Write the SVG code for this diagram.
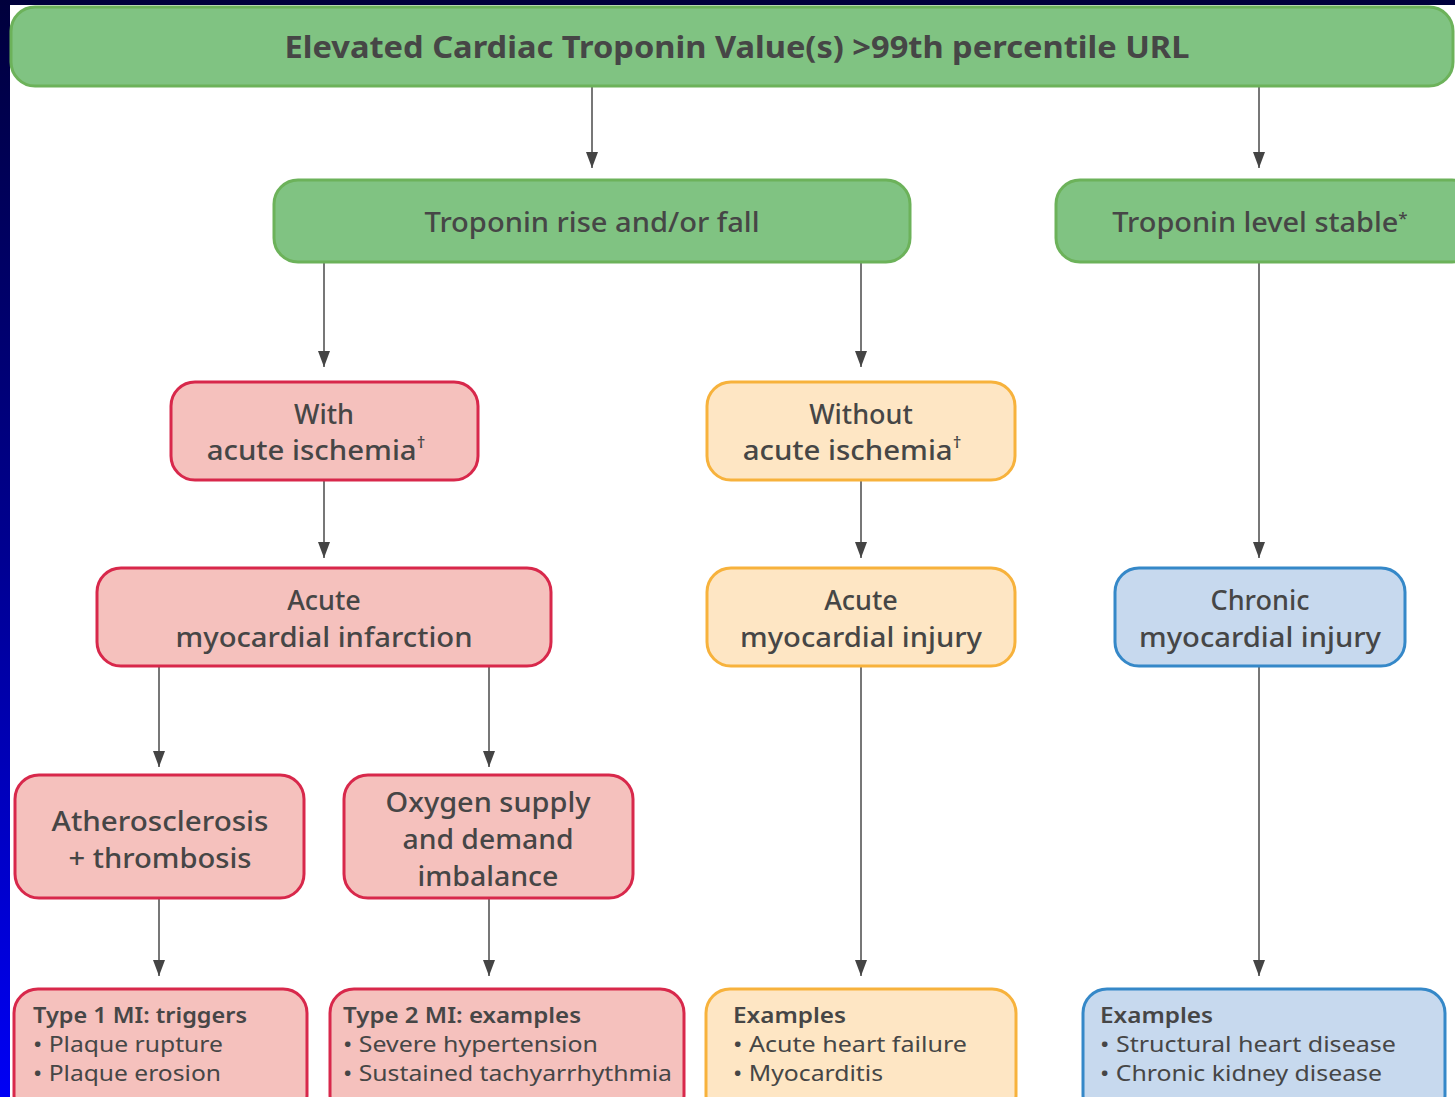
<svg xmlns="http://www.w3.org/2000/svg" width="1455" height="1097" viewBox="0 0 1455 1097">
<defs>
<linearGradient id="bg" x1="0" y1="0" x2="0" y2="1">
<stop offset="0" stop-color="#00003c"/>
<stop offset="0.5" stop-color="#000090"/>
<stop offset="1" stop-color="#0000f5"/>
</linearGradient>
<marker id="ah" viewBox="0 0 16 12" refX="16" refY="6" markerWidth="16" markerHeight="12" markerUnits="userSpaceOnUse" orient="auto">
<path d="M0,0 L16,6 L0,12 Z" fill="#444"/>
</marker>
<style>
.g{fill:#80c382;stroke:#6cb25a;stroke-width:3}
.p{fill:#f5c1bd;stroke:#d8284b;stroke-width:3}
.y{fill:#fee6c4;stroke:#f7b23c;stroke-width:3}
.b{fill:#c7d9ee;stroke:#3588c8;stroke-width:3}
text{font-family:"Noto Sans","DejaVu Sans",sans-serif;fill:#464646}
.t{font-size:27px;text-anchor:middle;font-weight:500}
.h{font-size:30px;font-weight:bold;text-anchor:middle}
.s{font-size:22px}
.sb{font-size:22px;font-weight:600}
.sup{font-size:17px}
.c{fill:none;stroke:#555;stroke-width:1.6}
</style>
</defs>
<rect x="0" y="0" width="1455" height="1097" fill="url(#bg)"/>
<rect x="10" y="5" width="1445" height="1092" fill="#fff"/>

<g id="connectors">
<line class="c" x1="592" y1="87" x2="592" y2="168" marker-end="url(#ah)"/>
<line class="c" x1="1259" y1="87" x2="1259" y2="168" marker-end="url(#ah)"/>
<line class="c" x1="324" y1="263" x2="324" y2="367" marker-end="url(#ah)"/>
<line class="c" x1="861" y1="263" x2="861" y2="367" marker-end="url(#ah)"/>
<line class="c" x1="324" y1="481" x2="324" y2="558" marker-end="url(#ah)"/>
<line class="c" x1="861" y1="481" x2="861" y2="558" marker-end="url(#ah)"/>
<line class="c" x1="1259" y1="263" x2="1259" y2="558" marker-end="url(#ah)"/>
<line class="c" x1="159" y1="667" x2="159" y2="767" marker-end="url(#ah)"/>
<line class="c" x1="489" y1="667" x2="489" y2="767" marker-end="url(#ah)"/>
<line class="c" x1="861" y1="667" x2="861" y2="976" marker-end="url(#ah)"/>
<line class="c" x1="1259" y1="667" x2="1259" y2="976" marker-end="url(#ah)"/>
<line class="c" x1="159" y1="899" x2="159" y2="976" marker-end="url(#ah)"/>
<line class="c" x1="489" y1="899" x2="489" y2="976" marker-end="url(#ah)"/>
</g>

<g id="n-top">
<rect class="g" x="11" y="7" width="1442" height="79" rx="24"/>
<text class="h" x="737" y="58" textLength="905" lengthAdjust="spacingAndGlyphs">Elevated Cardiac Troponin Value(s) &gt;99th percentile URL</text>
</g>

<g id="n-risefall">
<rect class="g" x="274" y="180" width="636" height="82" rx="24"/>
<text class="t" x="592" y="232" textLength="335" lengthAdjust="spacingAndGlyphs">Troponin rise and/or fall</text>
</g>

<g id="n-stable">
<rect class="g" x="1056" y="180" width="420" height="82" rx="24"/>
<text class="t" x="1260" y="232"><tspan textLength="286" lengthAdjust="spacingAndGlyphs">Troponin level stable</tspan><tspan class="sup" dy="-8">*</tspan></text>
</g>

<g id="n-with">
<rect class="p" x="171" y="382" width="307" height="98" rx="24"/>
<text class="t" x="324" y="424">With</text>
<text class="t" x="316" y="460"><tspan textLength="210" lengthAdjust="spacingAndGlyphs">acute ischemia</tspan><tspan class="sup" dy="-12">†</tspan></text>
</g>

<g id="n-without">
<rect class="y" x="707" y="382" width="308" height="98" rx="24"/>
<text class="t" x="861" y="424">Without</text>
<text class="t" x="852" y="460"><tspan textLength="210" lengthAdjust="spacingAndGlyphs">acute ischemia</tspan><tspan class="sup" dy="-12">†</tspan></text>
</g>

<g id="n-ami">
<rect class="p" x="97" y="568" width="454" height="98" rx="24"/>
<text class="t" x="324" y="610">Acute</text>
<text class="t" x="324" y="647" textLength="297" lengthAdjust="spacingAndGlyphs">myocardial infarction</text>
</g>

<g id="n-acute-injury">
<rect class="y" x="707" y="568" width="308" height="98" rx="24"/>
<text class="t" x="861" y="610">Acute</text>
<text class="t" x="861" y="647" textLength="242" lengthAdjust="spacingAndGlyphs">myocardial injury</text>
</g>

<g id="n-chronic-injury">
<rect class="b" x="1115" y="568" width="290" height="98" rx="24"/>
<text class="t" x="1260" y="610">Chronic</text>
<text class="t" x="1260" y="647" textLength="242" lengthAdjust="spacingAndGlyphs">myocardial injury</text>
</g>

<g id="n-athero">
<rect class="p" x="15" y="775" width="289" height="123" rx="24"/>
<text class="t" x="160" y="831" textLength="217" lengthAdjust="spacingAndGlyphs">Atherosclerosis</text>
<text class="t" x="160" y="868" textLength="183" lengthAdjust="spacingAndGlyphs">+ thrombosis</text>
</g>

<g id="n-oxygen">
<rect class="p" x="344" y="775" width="289" height="123" rx="24"/>
<text class="t" x="488" y="812" textLength="205" lengthAdjust="spacingAndGlyphs">Oxygen supply</text>
<text class="t" x="488" y="849" textLength="171" lengthAdjust="spacingAndGlyphs">and demand</text>
<text class="t" x="488" y="886" textLength="141" lengthAdjust="spacingAndGlyphs">imbalance</text>
</g>

<g id="n-type1">
<rect class="p" x="14" y="989" width="293" height="130" rx="24"/>
<text class="sb" x="33" y="1023" textLength="214" lengthAdjust="spacingAndGlyphs">Type 1 MI: triggers</text>
<text class="s" x="33" y="1052" textLength="190" lengthAdjust="spacingAndGlyphs">• Plaque rupture</text>
<text class="s" x="33" y="1081" textLength="188" lengthAdjust="spacingAndGlyphs">• Plaque erosion</text>
</g>

<g id="n-type2">
<rect class="p" x="330" y="989" width="354" height="130" rx="24"/>
<text class="sb" x="343" y="1023" textLength="238" lengthAdjust="spacingAndGlyphs">Type 2 MI: examples</text>
<text class="s" x="343" y="1052" textLength="255" lengthAdjust="spacingAndGlyphs">• Severe hypertension</text>
<text class="s" x="343" y="1081" textLength="329" lengthAdjust="spacingAndGlyphs">• Sustained tachyarrhythmia</text>
</g>

<g id="n-ex-acute">
<rect class="y" x="706" y="989" width="310" height="130" rx="24"/>
<text class="sb" x="733" y="1023" textLength="113" lengthAdjust="spacingAndGlyphs">Examples</text>
<text class="s" x="733" y="1052" textLength="234" lengthAdjust="spacingAndGlyphs">• Acute heart failure</text>
<text class="s" x="733" y="1081" textLength="150" lengthAdjust="spacingAndGlyphs">• Myocarditis</text>
</g>

<g id="n-ex-chronic">
<rect class="b" x="1083" y="989" width="362" height="130" rx="24"/>
<text class="sb" x="1100" y="1023" textLength="113" lengthAdjust="spacingAndGlyphs">Examples</text>
<text class="s" x="1100" y="1052" textLength="296" lengthAdjust="spacingAndGlyphs">• Structural heart disease</text>
<text class="s" x="1100" y="1081" textLength="282" lengthAdjust="spacingAndGlyphs">• Chronic kidney disease</text>
</g>
</svg>
